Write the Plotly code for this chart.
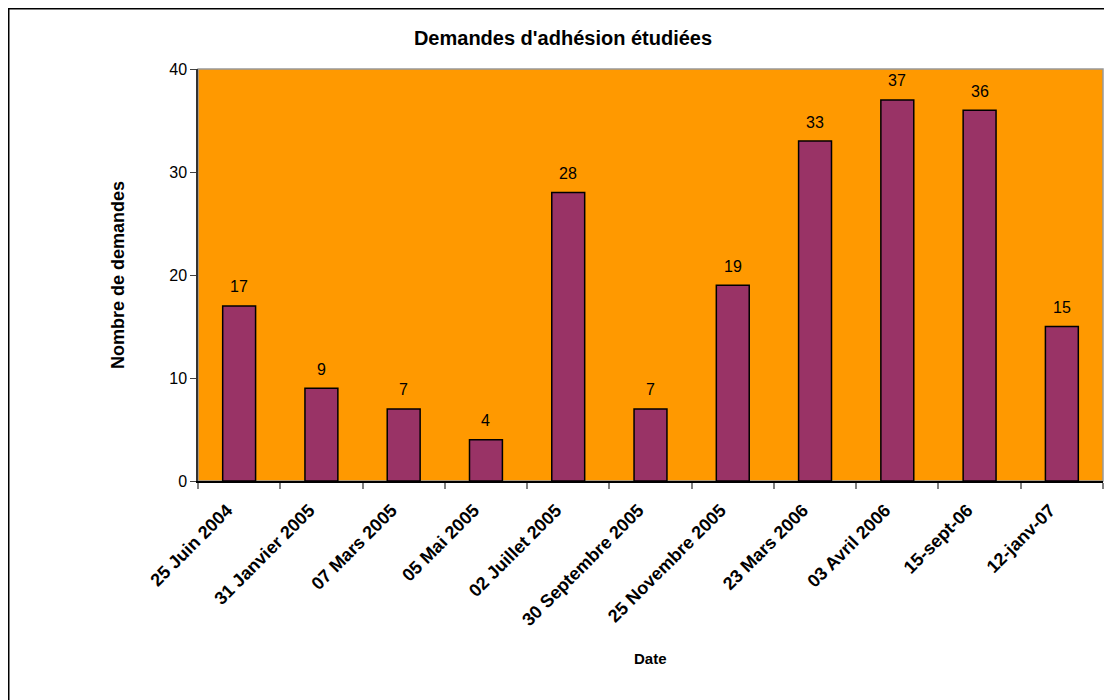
import plotly.graph_objects as go

categories = ["25 Juin 2004", "31 Janvier 2005", "07 Mars 2005", "05 Mai 2005",
              "02 Juillet 2005", "30 Septembre 2005", "25 Novembre 2005",
              "23 Mars 2006", "03 Avril 2006", "15-sept-06", "12-janv-07"]
values = [17, 9, 7, 4, 28, 7, 19, 33, 37, 36, 15]
y_ticks = [0, 10, 20, 30, 40]

# page body has an 8px margin; figure coordinates are screen minus 8
OFF = 8
W, H = 1112 - OFF, 700 - OFF
L, R, T, B = 198 - OFF, 1103 - OFF, 69 - OFF, 481 - OFF
pw, ph = R - L, B - T
FONT = "Liberation Sans, Arial"

def px_x(p):
    return (p - OFF - L) / pw

def px_y(p):
    return (B - (p - OFF)) / ph

fig = go.Figure()
fig.add_trace(go.Bar(
    x=categories, y=values,
    marker=dict(color="#993366", line=dict(color="#000000", width=1.5)),
))

for c, v in zip(categories, values):
    fig.add_annotation(x=c, y=v, text=str(v), showarrow=False, yshift=19,
                       xanchor="center", yanchor="middle",
                       font=dict(family=FONT, size=16, color="#000000"))

fig.update_layout(
    width=W, height=H,
    margin=dict(l=L, r=W - R, t=T, b=H - B, pad=0),
    paper_bgcolor="white", plot_bgcolor="#FF9900",
    bargap=0.6, showlegend=False,
    font=dict(family=FONT, color="#000000"),
    title=dict(text="<b>Demandes d'adhésion étudiées</b>", x=px_x(563), xref="paper",
               xanchor="center", y=1 - (38 - OFF) / H, yanchor="middle",
               font=dict(size=20, color="#000000")),
    xaxis=dict(
        tickangle=-45, ticks="outside", tickson="boundaries", ticklen=6,
        tickcolor="#808080", tickwidth=1.5,
        showline=True, linecolor="#000000", linewidth=1.5,
        tickfont=dict(size=18, family=FONT, weight="bold"),
        ticklabelstandoff=10, ticklabelshift=-12,
        showgrid=False,
    ),
    yaxis=dict(
        range=[0, 40], tickvals=y_ticks, ticks="outside", ticklen=6,
        tickcolor="#404040", showline=True, linecolor="#333333", linewidth=1.5,
        showgrid=False, zeroline=False,
        tickfont=dict(size=16, family=FONT),
    ),
)

fig.add_annotation(text="<b>Date</b>", xref="paper", yref="paper",
                   x=px_x(650), y=px_y(658), showarrow=False,
                   xanchor="center", yanchor="middle",
                   font=dict(size=15, family=FONT, color="#000000"))
fig.add_annotation(text="<b>Nombre de demandes</b>", xref="paper", yref="paper",
                   x=px_x(118), y=px_y(275), showarrow=False, textangle=-90,
                   xanchor="center", yanchor="middle",
                   font=dict(size=18, family=FONT, color="#000000"))

# plot area border (gray top/right)
fig.add_shape(type="rect", xref="paper", yref="paper", x0=0, y0=0, x1=1, y1=1,
              line=dict(color="#999999", width=1.5), layer="below")
# outer chart border
fig.add_shape(type="rect", xref="paper", yref="paper",
              x0=px_x(8.75), y0=px_y(730), x1=px_x(1140), y1=px_y(8.75),
              line=dict(color="#000000", width=1.5), layer="above")

fig.write_html("out.html")
